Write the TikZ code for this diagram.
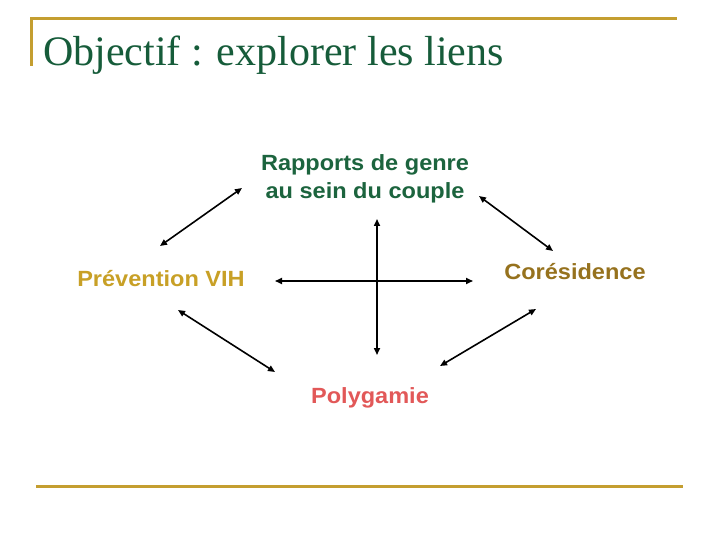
\documentclass[tikz,border=0pt]{standalone}
\usepackage{fontspec}
\setmainfont{Liberation Serif}
\newfontfamily\labelfont[FakeStretch=1.07]{Liberation Sans}
\usetikzlibrary{arrows.meta,positioning}

\definecolor{titlegreen}{RGB}{22,92,58}
\definecolor{rapgreen}{RGB}{28,100,62}
\definecolor{prevgold}{RGB}{200,160,38}
\definecolor{coresbrown}{RGB}{150,114,30}
\definecolor{polyred}{RGB}{226,88,88}
\definecolor{rulegold}{RGB}{196,158,48}

\begin{document}
\begin{tikzpicture}[x=1pt, y=-1pt,
        theme/.style={font=\labelfont\bfseries\fontsize{22}{28}\selectfont, align=center, inner sep=0pt},
        link/.style={{Triangle[length=7pt,width=6pt]}-{Triangle[length=7pt,width=6pt]}, line width=1.6pt},
        rule/.style={draw=rulegold, line width=3pt}
    ]
        \useasboundingbox[fill=white] (0,0) rectangle (720,540);

        % title frame
        \draw[rule] (30,18.5) -- (677,18.5);
        \draw[rule] (31,18.5) -- (31,66);
        \draw[rule] (36,486) -- (683,486);
        \node[anchor=base west, inner sep=0pt, text=titlegreen, font=\fontsize{42}{42}\selectfont] (title) at (43,66) {Objectif : explorer les liens};

        \node[theme, text=rapgreen] (rapports) at (365,179) {Rapports de genre\\au sein du couple};
        \node[theme, text=prevgold, anchor=base] (prevention) at (161,286) {Prévention VIH};
        \node[theme, text=coresbrown, anchor=base] (coresidence) at (575,279) {Corésidence};
        \node[theme, text=polyred, anchor=base] (polygamie) at (370,403) {Polygamie};

        % arrow ends
        \coordinate (prevNE) at (160,246);
        \coordinate (rapSW) at (242,188);
        \coordinate (rapSE) at (479,196);
        \coordinate (coresNW) at (553,251);
        \coordinate (prevE) at (275,281);
        \coordinate (coresW) at (473,281);
        \coordinate (rapS) at (377,219);
        \coordinate (polyN) at (377,355);
        \coordinate (prevSE) at (178,310);
        \coordinate (polyNW) at (275,372);
        \coordinate (coresSW) at (536,309);
        \coordinate (polyNE) at (440,366);

        \draw[link] (prevNE) -- (rapSW);
        \draw[link] (rapSE) -- (coresNW);
        \draw[link] (prevE) -- (coresW);
        \draw[link] (rapS) -- (polyN);
        \draw[link] (prevSE) -- (polyNW);
        \draw[link] (coresSW) -- (polyNE);
    \end{tikzpicture}
\end{document}
